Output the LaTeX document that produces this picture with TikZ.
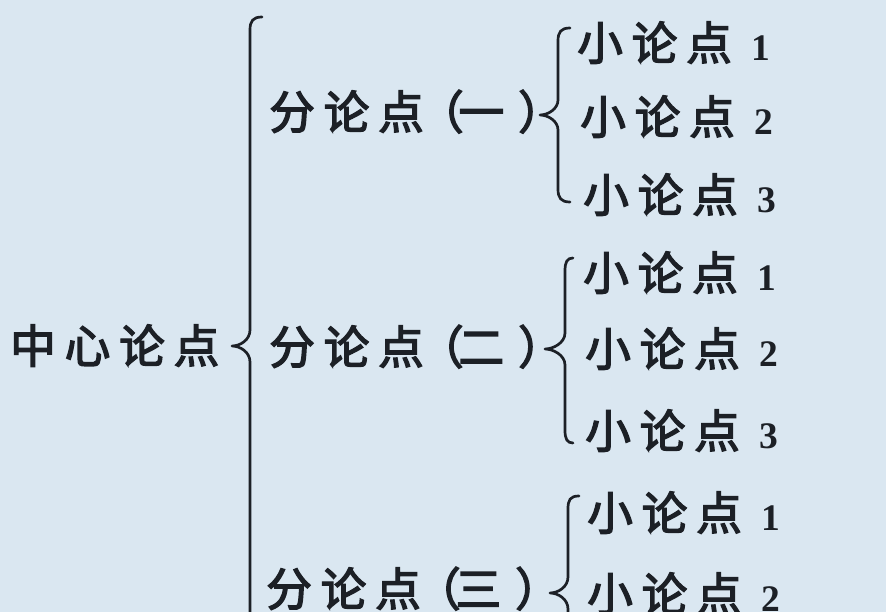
\documentclass[tikz,border=0pt]{standalone}
\usepackage{fontspec}
\newfontfamily\cjkfont[FakeBold=3]{Noto Sans CJK SC}
\newfontfamily\numfont{Liberation Serif}

\definecolor{paper}{RGB}{218,231,241}
\definecolor{inkc}{RGB}{28,32,38}

\tikzset{
	point text/.style={anchor=base west, inner sep=0pt, text=inkc, font=\cjkfont\fontsize{39}{44}\selectfont},
	brace line/.style={draw=inkc, line width=2.3pt, line cap=round, line join=round},
}
\newcommand{\gap}{\hspace{7.5pt}}
\newcommand{\pnum}[1]{\hspace{17pt}{\numfont\bfseries\fontsize{32}{36}\selectfont #1}}
\newcommand{\paren}[1]{\hspace{-5pt}（\hspace{-4.5pt}#1\hspace{12pt}）}

\begin{document}
\begin{tikzpicture}[x=0.03cm,y=-0.03cm]
	\useasboundingbox (0,0) rectangle (886,612);
	\clip (0,0) rectangle (886,612);
	\fill[paper] (0,0) rectangle (886,612);	%page
	
	%central point
	\node[point text] (cen) at (10,363) {中\gap 心\gap 论\gap 点};
	
	%main brace
	\draw[brace line] (262,17) .. controls (253,17) and (250,21) .. (250,30) -- (250,330)
		.. controls (250,340) and (240,346) .. (232,346) .. controls (240,346) and (250,352) .. (250,362)
		-- (250,662) .. controls (250,671) and (253,675) .. (262,675);
	
	%sub points
	\node[point text] (fen1) at (269,129) {分\gap 论\gap 点\paren{一}};
	\node[point text] (fen2) at (269,364) {分\gap 论\gap 点\paren{二}};
	\node[point text] (fen3) at (266,606) {分\gap 论\gap 点\paren{三}};
	
	%first group
	\draw[brace line] (570,28) .. controls (561,28) and (558,32) .. (558,41) -- (558,100)
		.. controls (558,109) and (548,115) .. (540,115) .. controls (548,115) and (558,121) .. (558,130)
		-- (558,189) .. controls (558,198) and (561,202) .. (570,202);
	\node[point text] (xa1) at (577,60) {小\gap 论\gap 点\pnum{1}};
	\node[point text] (xa2) at (580,134) {小\gap 论\gap 点\pnum{2}};
	\node[point text] (xa3) at (583,212) {小\gap 论\gap 点\pnum{3}};
	
	%second group
	\draw[brace line] (573,258) .. controls (567,258) and (565,262) .. (565,271) -- (565,333)
		.. controls (565,343) and (553,349) .. (545,349) .. controls (553,349) and (565,355) .. (565,365)
		-- (565,430) .. controls (565,439) and (567,443) .. (573,443);
	\node[point text] (xb1) at (583,290) {小\gap 论\gap 点\pnum{1}};
	\node[point text] (xb2) at (585,366) {小\gap 论\gap 点\pnum{2}};
	\node[point text] (xb3) at (585,448) {小\gap 论\gap 点\pnum{3}};
	
	%third group
	\draw[brace line] (579,496) .. controls (570,496) and (568,500) .. (568,509) -- (568,577)
		.. controls (568,587) and (558,593) .. (550,593) .. controls (558,593) and (568,599) .. (568,609)
		-- (568,677) .. controls (568,686) and (570,690) .. (579,690);
	\node[point text] (xc1) at (587,530) {小\gap 论\gap 点\pnum{1}};
	\node[point text] (xc2) at (587,611) {小\gap 论\gap 点\pnum{2}};
	
\end{tikzpicture}
\end{document}
